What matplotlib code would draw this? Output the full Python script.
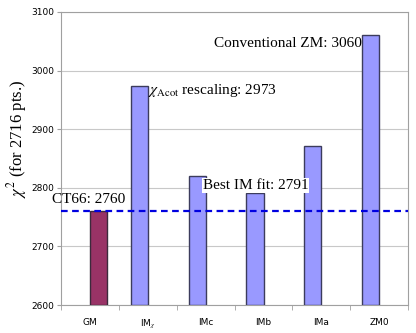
import matplotlib
matplotlib.use('Agg')
import matplotlib.pyplot as plt
import numpy as np

plt.rcParams['mathtext.fontset'] = 'stix'

categories = ['GM', r'IM$_\chi$', 'IMc', 'IMb', 'IMa', 'ZM0']
blue_vals = [np.nan, 2973, 2821, 2791, 2872, 3060]
gm_vals = [2760, np.nan, np.nan, np.nan, np.nan, np.nan]
ct66 = 2760
ymin, ymax = 2600, 3100

serif = 'Liberation Serif'

fig = plt.figure(figsize=(4.16, 3.33), dpi=100)
ax = fig.add_axes([0.147, 0.084, 0.834, 0.880])

x = np.arange(len(categories))
w = 0.295
blue = np.array(blue_vals) - ymin
gm = np.array(gm_vals) - ymin
ax.bar(x - w / 2, blue, w, bottom=ymin, color='#9999ff', edgecolor='#3c3c5c', linewidth=1.0, zorder=3)
ax.bar(x + w / 2, gm, w, bottom=ymin, color='#993366', edgecolor='#3c2a3c', linewidth=1.0, zorder=3)

ax.axhline(ct66, color='#0000e0', linestyle=(0, (3, 2)), linewidth=1.6, zorder=4)

ax.set_xlim(-0.5, len(categories) - 0.5)
ax.set_ylim(ymin, ymax)
ax.set_yticks(np.arange(2600, 3101, 100))
ax.yaxis.grid(True, color='#c8c8c8', linewidth=0.8, zorder=0)
ax.set_xticks(x)
ax.set_xticklabels(categories, fontsize=6.5)
ax.set_xticks(np.arange(-0.5, len(categories)), minor=True)
ax.tick_params(axis='x', which='major', length=0, pad=9)
ax.tick_params(axis='x', which='minor', length=3.5, color='#a0a0a0', direction='out')
ax.tick_params(axis='y', length=3, color='#a0a0a0', labelsize=6.5, pad=2)
for s in ax.spines.values():
    s.set_color('#a0a0a0')
    s.set_linewidth(0.8)

fig.text(17 / 416, 1 - 139 / 333, r'$\chi^2$ (for 2716 pts.)', rotation=90,
         ha='center', va='center', family=serif, fontsize=12)

ax.text(5 - w - 0.01, 3046, 'Conventional ZM: 3060', family=serif, fontsize=11,
        ha='right', va='center', zorder=5)
ax.text(1 + 0.01, 2966, r'$\chi_{\rm Acot}$ rescaling: 2973', family=serif, fontsize=11,
        ha='left', va='center', zorder=5)
ax.text(1.95, 2804, 'Best IM fit: 2791', family=serif, fontsize=11, ha='left', va='center',
        zorder=5, bbox=dict(facecolor='white', edgecolor='none', pad=0.5))
ax.text(-0.65, 2780, 'CT66: 2760', family=serif, fontsize=11, ha='left', va='center',
        zorder=5, clip_on=False)

fig.savefig('out.png', dpi=100)
